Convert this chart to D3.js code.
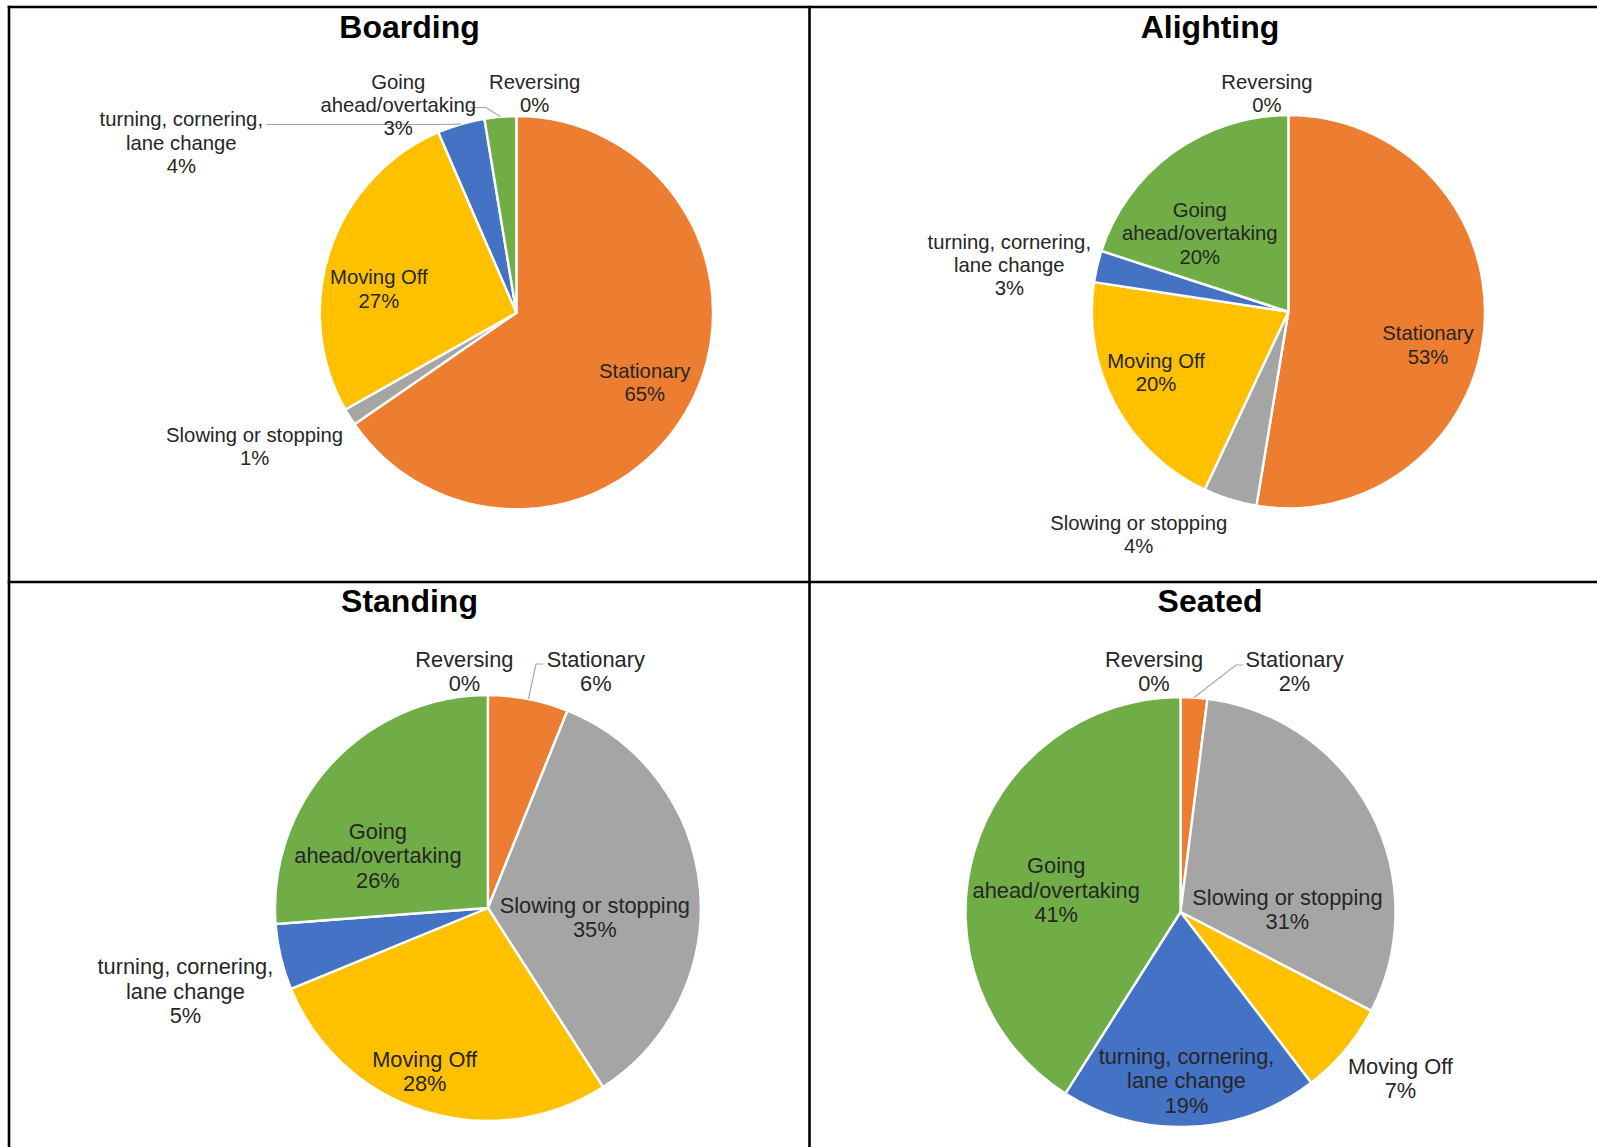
<!DOCTYPE html>
<html>
<head>
<meta charset="utf-8">
<script src="https://cdn.jsdelivr.net/npm/d3@7"></script>
<style>
  html, body { margin: 0; padding: 0; background: #ffffff; }
  svg { display: block; }
</style>
</head>
<body>
<svg id="chart" width="1597" height="1147"></svg>
<script>
// ---------- data ----------
const categories = ["Reversing", "Stationary", "Slowing or stopping", "Moving Off",
                    "turning, cornering, lane change", "Going ahead/overtaking"];
// category names as wrapped in the data labels
const categoryLines = [["Reversing"], ["Stationary"], ["Slowing or stopping"], ["Moving Off"],
                       ["turning, cornering,", "lane change"], ["Going", "ahead/overtaking"]];
const chartTitles = ["Boarding", "Alighting", "Standing", "Seated"];
const boardingValues  = [0, 65.4, 1.4, 26.7, 3.9, 2.6];
const alightingValues = [0, 52.6, 4.4, 20.4, 2.6, 20.0];
const standingValues  = [0, 6.1, 34.8, 27.9, 5.0, 26.2];
const seatedValues    = [0, 2.0, 30.6, 7.0, 19.4, 41.0];
const sliceColors = ["#4472C4", "#ED7D31", "#A5A5A5", "#FFC000", "#4472C4", "#70AD47"];

// ---------- layout (positions only) ----------
const panels = [
  { values: boardingValues, title: chartTitles[0], tx: 409.5, ty: 38, cx: 516.4, cy: 312.7, r: 196.6,
    font: 20.3, lh: 23.4,
    labels: [[534.7, 81.5], [644.7, 370.7], [254.6, 434.9], [378.9, 277], [181.3, 119.2], [398.2, 81.5]],
    leaders: { 4: [[266, 124.5], [440, 124.5]], 5: [[470, 107.5], [486, 107.5]] } },
  { values: alightingValues, title: chartTitles[1], tx: 1210, ty: 38, cx: 1288.4, cy: 311.7, r: 196.6,
    font: 20.3, lh: 23.4,
    labels: [[1267, 81.5], [1428, 333], [1138.7, 522.5], [1156, 360.5], [1009.3, 241.4], [1199.8, 209.8]],
    leaders: {} },
  { values: standingValues, title: chartTitles[2], tx: 409.5, ty: 611.5, cx: 487.9, cy: 908, r: 212.9,
    font: 21.8, lh: 24.4,
    labels: [[464.4, 659], [595.8, 659], [594.8, 905.4], [424.7, 1059.2], [185.4, 966.6], [377.9, 831.1]],
    leaders: { 1: [[543, 664], [536, 664]] } },
  { values: seatedValues, title: chartTitles[3], tx: 1210, ty: 611.5, cx: 1180.5, cy: 912, r: 215,
    font: 21.8, lh: 24.4,
    labels: [[1154, 659], [1294.5, 659], [1287.4, 897.3], [1400.4, 1066.4], [1186.5, 1056.2], [1056.2, 865.7]],
    leaders: { 1: [[1243, 665], [1236, 665]] } }
];

const svg = d3.select("#chart");
const FONT = "'Liberation Sans', Arial, Helvetica, sans-serif";

// table grid lines
const grid = svg.append("g").attr("stroke", "#000").attr("stroke-width", 2.6);
grid.append("line").attr("x1", 9).attr("x2", 9).attr("y1", 5.7).attr("y2", 1147);
grid.append("line").attr("x1", 7.7).attr("x2", 1597).attr("y1", 7).attr("y2", 7);
grid.append("line").attr("x1", 809.5).attr("x2", 809.5).attr("y1", 5.7).attr("y2", 1147);
grid.append("line").attr("x1", 7.7).attr("x2", 1597).attr("y1", 582).attr("y2", 582);

const pie = d3.pie().sort(null).value(d => d).startAngle(0).endAngle(2 * Math.PI);

panels.forEach(p => {
  const g = svg.append("g");
  const total = d3.sum(p.values);
  const arcs = pie(p.values);
  const arc = d3.arc().innerRadius(0).outerRadius(p.r);

  g.append("text")
    .attr("x", p.tx).attr("y", p.ty)
    .attr("text-anchor", "middle")
    .attr("font-family", FONT).attr("font-weight", "bold").attr("font-size", 32)
    .attr("fill", "#000")
    .text(p.title);

  const pg = g.append("g").attr("transform", `translate(${p.cx},${p.cy})`);
  pg.selectAll("path").data(arcs).join("path")
    .attr("d", arc)
    .attr("fill", (d, i) => sliceColors[i])
    .attr("stroke", "#fff")
    .attr("stroke-width", d => (d.value > 0 ? 2.4 : 0))
    .attr("stroke-linejoin", "round");

  // leader lines
  Object.keys(p.leaders).forEach(k => {
    const a = arcs[+k];
    const mid = (a.startAngle + a.endAngle) / 2;
    const ex = p.cx + Math.sin(mid) * p.r;
    const ey = p.cy - Math.cos(mid) * p.r;
    const pts = p.leaders[k].concat([[ex, ey]]);
    g.append("path")
      .attr("d", d3.line()(pts))
      .attr("fill", "none")
      .attr("stroke", "#a6a6a6")
      .attr("stroke-width", 1.2);
  });

  // data labels
  arcs.forEach((a, i) => {
    const pos = p.labels[i];
    const lines = categoryLines[i].concat([Math.round(a.value / total * 100) + "%"]);
    const t = g.append("text")
      .attr("font-family", FONT).attr("font-size", p.font)
      .attr("fill", "#262626")
      .attr("text-anchor", "middle");
    lines.forEach((ln, j) => {
      t.append("tspan")
        .attr("x", pos[0])
        .attr("y", pos[1] + j * p.lh + p.font * 0.35)
        .text(ln);
    });
  });
});
</script>
</body>
</html>
